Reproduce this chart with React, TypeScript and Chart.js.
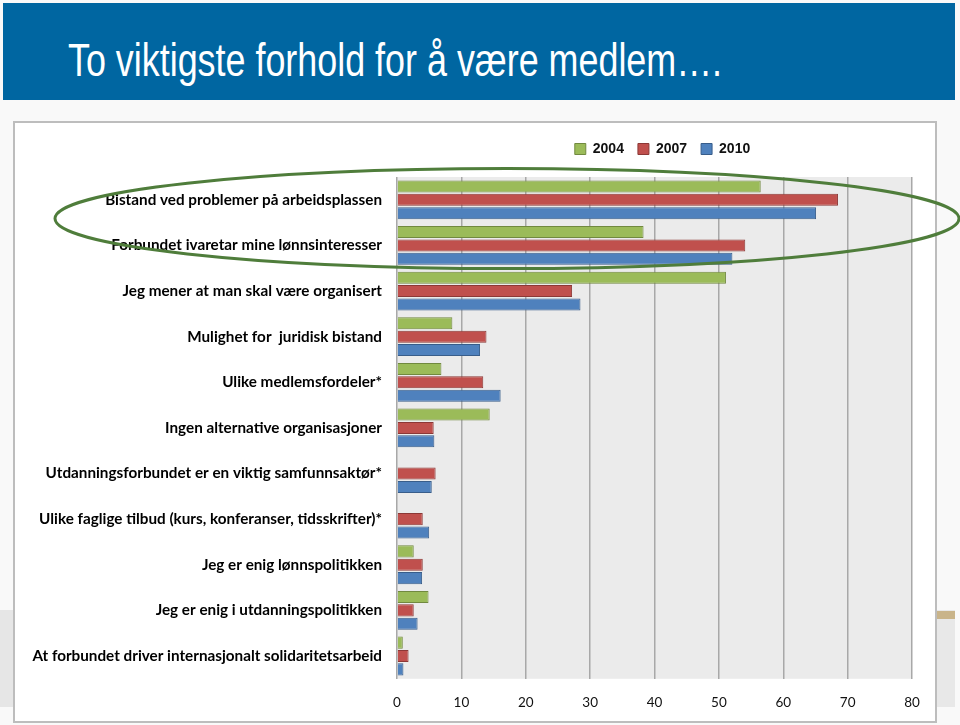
import React, { useEffect, useRef } from "react";
import { Chart, registerables } from "chart.js";

Chart.register(...registerables);

const categories = [
  "Bistand ved problemer på arbeidsplassen",
  "Forbundet ivaretar mine lønnsinteresser",
  "Jeg mener at man skal være organisert",
  "Mulighet for  juridisk bistand",
  "Ulike medlemsfordeler*",
  "Ingen alternative organisasjoner",
  "Utdanningsforbundet er en viktig samfunnsaktør*",
  "Ulike faglige tilbud (kurs, konferanser, tidsskrifter)*",
  "Jeg er enig lønnspolitikken",
  "Jeg er enig i utdanningspolitikken",
  "At forbundet driver internasjonalt solidaritetsarbeid",
];

const seriesLabels = ["2004", "2007", "2010"];
const values2004 = [56.5, 38.3, 51.1, 8.6, 6.9, 14.4, null, null, 2.6, 4.9, 0.9];
const values2007 = [68.5, 54.1, 27.2, 13.9, 13.4, 5.7, 6.0, 4.0, 4.0, 2.6, 1.8];
const values2010 = [65.1, 52.1, 28.5, 12.9, 16.1, 5.8, 5.4, 5.0, 3.9, 3.2, 1.0];

const xMin = 0;
const xMax = 80;
const xStep = 10;

const fills = ["#9bbb59", "#c0504d", "#4f81bd"];
const borders = ["#71893f", "#8c3836", "#385d8a"];

const plotBg = {
  id: "plotBg",
  beforeDraw(chart: any) {
    const { ctx, chartArea } = chart;
    ctx.save();
    ctx.fillStyle = "#ebebeb";
    ctx.fillRect(chartArea.left, chartArea.top, chartArea.right - chartArea.left, chartArea.bottom - chartArea.top);
    ctx.restore();
  },
};

const legendShift = {
  id: "legendShift",
  afterLayout(chart: any) {
    if (chart.legend) {
      chart.legend.left += 8;
      chart.legend.right += 8;
    }
  },
};

const highlight = {
  id: "highlight",
  afterDraw(chart: any) {
    const { ctx } = chart;
    const y = chart.scales.y;
    const cy = (y.getPixelForValue(0) + y.getPixelForValue(1)) / 2 - 4;
    ctx.save();
    ctx.strokeStyle = "#4f7d3b";
    ctx.lineWidth = 3;
    ctx.beginPath();
    ctx.ellipse(507, cy, 452, 50, 0, 0, Math.PI * 2);
    ctx.stroke();
    ctx.restore();
  },
};

export default function App() {
  const ref = useRef<HTMLCanvasElement>(null);

  useEffect(() => {
    const series = [values2004, values2007, values2010];
    const chart = new Chart(ref.current as HTMLCanvasElement, {
      type: "bar",
      data: {
        labels: categories,
        datasets: series.map((d, i) => ({
          label: seriesLabels[i],
          data: d,
          backgroundColor: fills[i],
          borderColor: borders[i],
          borderWidth: 1,
          categoryPercentage: 0.88,
          barPercentage: 0.9,
        })),
      },
      options: {
        indexAxis: "y",
        responsive: false,
        animation: false,
        devicePixelRatio: 1,
        layout: { padding: { left: 20, right: 48, top: 128, bottom: -2 } },
        plugins: {
          legend: {
            position: "top",
            fullSize: false,
            weight: 2000,
            labels: {
              boxWidth: 11,
              boxHeight: 11,
              padding: 14,
              color: "#111",
              font: { family: '"Liberation Sans", Arial, sans-serif', size: 14, weight: "bold" },
            },
          } as any,
          subtitle: {
            display: true,
            text: "",
            fullSize: false,
            font: { size: 10, lineHeight: 1 },
            padding: { top: 0, bottom: 1 },
          } as any,
          tooltip: { enabled: false },
        },
        scales: {
          x: {
            type: "linear",
            position: "bottom",
            min: xMin,
            max: xMax,
            ticks: {
              stepSize: xStep,
              padding: 16,
              color: "#111",
              font: { family: "Lato, sans-serif", size: 13.5 },
            },
            grid: { color: "#a8a8a8", lineWidth: 1.5, drawTicks: false },
            border: { display: false },
          },
          y: {
            type: "category",
            grid: { display: false, drawTicks: false },
            border: { display: false },
            ticks: {
              padding: 15,
              color: "#000",
              autoSkip: false,
              font: { family: "Lato, sans-serif", size: 15.25, weight: "bold" },
            },
            afterFit(scale: any) {
              scale.width = 377;
            },
          },
        },
      },
      plugins: [plotBg, legendShift, highlight],
    });
    return () => chart.destroy();
  }, []);

  return (
    <div
      style={{
        position: "fixed",
        left: 0,
        top: 0,
        width: 960,
        height: 725,
        background: "#f9f9f9",
        overflow: "hidden",
      }}
    >
      <div style={{ position: "absolute", left: 3, top: 3, width: 952, height: 97, background: "#0066a1" }} />
      <div
        style={{
          position: "absolute",
          left: 68,
          top: 34,
          fontFamily: '"Liberation Sans", Arial, sans-serif',
          fontSize: 46,
          lineHeight: "52px",
          color: "#ffffff",
          whiteSpace: "nowrap",
          transform: "scaleX(0.78)",
          transformOrigin: "left center",
        }}
      >
        To viktigste forhold for å være medlem….
      </div>
      <div style={{ position: "absolute", left: 0, top: 610, width: 15, height: 97, background: "#e6e6e6" }} />
      <div style={{ position: "absolute", left: 937, top: 610, width: 18, height: 97, background: "#e8e8e8" }} />
      <div style={{ position: "absolute", left: 937, top: 611, width: 18, height: 8, background: "#c9b48a" }} />
      <div
        style={{
          position: "absolute",
          left: 13,
          top: 121,
          width: 920,
          height: 598,
          background: "#ffffff",
          border: "2px solid #bdbdbd",
        }}
      />
      <canvas
        ref={ref}
        width={960}
        height={725}
        style={{ position: "absolute", left: 0, top: 0, width: 960, height: 725 }}
      />
    </div>
  );
}
